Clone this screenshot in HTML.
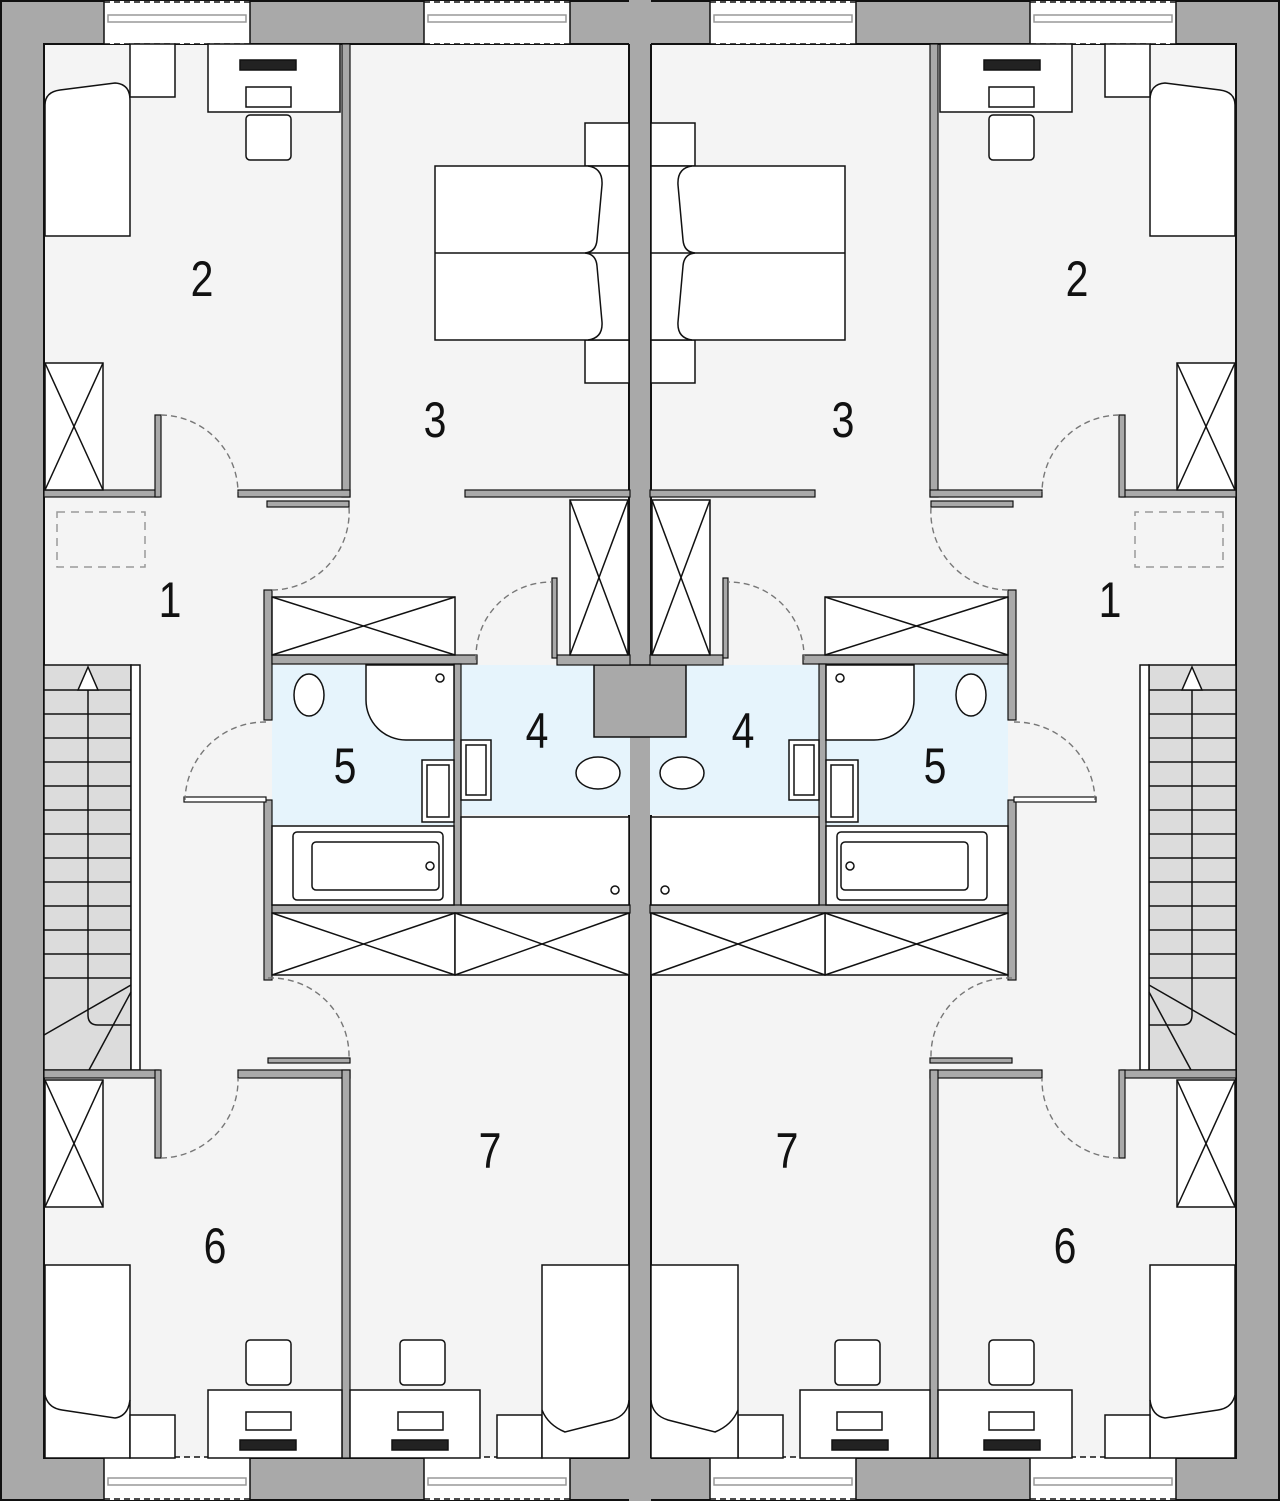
<!DOCTYPE html>
<html><head><meta charset="utf-8"><style>html,body{margin:0;padding:0;background:#fff}svg{display:block}</style></head>
<body>
<svg width="1280" height="1501" viewBox="0 0 1280 1501" xmlns="http://www.w3.org/2000/svg">
<defs>
<g id="half" stroke="#111" stroke-width="1.5">
  <rect x="0" y="0" width="641" height="1501" fill="#a9a9a9" stroke="none"/>
  <polyline points="641,1 1,1 1,1500 641,1500" fill="none" stroke="#111" stroke-width="2"/>
  <rect x="44" y="44" width="586" height="1414" fill="#f4f4f4" stroke="#111" stroke-width="2"/>
  <g fill="#fff">
    <rect x="104" y="1" width="146" height="43" stroke="none"/>
    <rect x="424" y="1" width="146" height="43" stroke="none"/>
    <rect x="104" y="1457" width="146" height="43" stroke="none"/>
    <rect x="424" y="1457" width="146" height="43" stroke="none"/>
  </g>
  <g fill="none" stroke-width="1.5">
    <line x1="104" y1="1" x2="104" y2="44"/><line x1="250" y1="1" x2="250" y2="44"/>
    <line x1="424" y1="1" x2="424" y2="44"/><line x1="570" y1="1" x2="570" y2="44"/>
    <line x1="104" y1="1457" x2="104" y2="1500"/><line x1="250" y1="1457" x2="250" y2="1500"/>
    <line x1="424" y1="1457" x2="424" y2="1500"/><line x1="570" y1="1457" x2="570" y2="1500"/>
    <rect x="108" y="15" width="138" height="7" stroke="#999"/>
    <rect x="428" y="15" width="138" height="7" stroke="#999"/>
    <rect x="108" y="1478" width="138" height="7" stroke="#999"/>
    <rect x="428" y="1478" width="138" height="7" stroke="#999"/>
    <line x1="104" y1="2" x2="250" y2="2" stroke-dasharray="6,4"/>
    <line x1="424" y1="2" x2="570" y2="2" stroke-dasharray="6,4"/>
    <line x1="104" y1="44" x2="250" y2="44" stroke-dasharray="6,4"/>
    <line x1="424" y1="44" x2="570" y2="44" stroke-dasharray="6,4"/>
    <line x1="104" y1="1457" x2="250" y2="1457" stroke-dasharray="6,4"/>
    <line x1="424" y1="1457" x2="570" y2="1457" stroke-dasharray="6,4"/>
    <line x1="104" y1="1499" x2="250" y2="1499" stroke-dasharray="6,4"/>
    <line x1="424" y1="1499" x2="570" y2="1499" stroke-dasharray="6,4"/>
  </g>
  <rect x="629" y="0" width="12" height="1501" fill="#a9a9a9" stroke="none"/>
  <line x1="629" y1="44" x2="629" y2="1458" stroke-width="2"/>
  <rect x="272" y="665" width="182" height="160" fill="#e6f4fc" stroke="none"/>
  <rect x="460" y="665" width="170" height="150" fill="#e6f4fc" stroke="none"/>
  <path d="M641 665 H594 V737 H641" fill="#a9a9a9" stroke-width="1.5"/>
  <rect x="44" y="665" width="87" height="405" fill="#dcdcdc"/>
  <rect x="131" y="665" width="9" height="405" fill="#fff"/>
  <g>
    <line x1="44" y1="690" x2="131" y2="690"/><line x1="44" y1="714" x2="131" y2="714"/>
    <line x1="44" y1="738" x2="131" y2="738"/><line x1="44" y1="762" x2="131" y2="762"/>
    <line x1="44" y1="786" x2="131" y2="786"/><line x1="44" y1="810" x2="131" y2="810"/>
    <line x1="44" y1="834" x2="131" y2="834"/><line x1="44" y1="858" x2="131" y2="858"/>
    <line x1="44" y1="882" x2="131" y2="882"/><line x1="44" y1="906" x2="131" y2="906"/>
    <line x1="44" y1="930" x2="131" y2="930"/><line x1="44" y1="954" x2="131" y2="954"/>
    <line x1="44" y1="978" x2="131" y2="978"/>
    <line x1="131" y1="985" x2="44" y2="1035"/><line x1="131" y1="992" x2="89" y2="1070"/>
    <path d="M88 690 V1015 Q88 1025 98 1025 H131" fill="none"/>
    <polygon points="88,667 78,690 98,690" fill="#fff"/>
  </g>
  <g fill="#a9a9a9" stroke="#111" stroke-width="1.2">
    <rect x="342" y="44" width="8" height="453"/>
    <rect x="44" y="490" width="115" height="7"/>
    <rect x="155" y="415" width="6" height="82"/>
    <rect x="238" y="490" width="112" height="7"/>
    <rect x="267" y="501" width="82" height="6"/>
    <rect x="465" y="490" width="165" height="7"/>
    <rect x="264" y="590" width="8" height="130"/>
    <rect x="272" y="655" width="205" height="9"/>
    <rect x="454" y="664" width="7" height="242"/>
    <rect x="264" y="800" width="8" height="180"/>
    <rect x="272" y="905" width="358" height="8"/>
    <rect x="557" y="655" width="73" height="10"/>
    <rect x="552" y="578" width="5" height="80"/>
    <rect x="44" y="1070" width="115" height="8"/>
    <rect x="155" y="1070" width="6" height="88"/>
    <rect x="238" y="1070" width="112" height="8"/>
    <rect x="342" y="1070" width="8" height="388"/>
    <rect x="268" y="1058" width="82" height="5"/>
    <rect x="184" y="797" width="82" height="5" fill="#fff"/>
  </g>
  <g fill="none" stroke="#777" stroke-dasharray="6,4" stroke-width="1.4">
    <path d="M161 415 A78 78 0 0 1 238 492"/>
    <path d="M272 590 A78 78 0 0 0 349 507"/>
    <path d="M266 722 A80 80 0 0 0 185 800"/>
    <path d="M476 660 A75 75 0 0 1 552 582"/>
    <path d="M268 978 A78 78 0 0 1 349 1058"/>
    <path d="M161 1158 A78 78 0 0 0 238 1078"/>
  </g>
  <g fill="#fff">
    <path d="M45 236 V105 Q45 92 60 90 L115 83 Q130 84 130 100 V236 Z"/>
    <rect x="130" y="44" width="45" height="53"/>
    <rect x="208" y="44" width="132" height="68"/>
    <rect x="240" y="60" width="56" height="10" fill="#222"/>
    <rect x="246" y="87" width="45" height="20"/>
    <rect x="246" y="115" width="45" height="45" rx="4"/>
    <rect x="45" y="363" width="58" height="127"/>
    <line x1="45" y1="363" x2="103" y2="490"/><line x1="103" y1="363" x2="45" y2="490"/>
    <rect x="57" y="512" width="88" height="55" fill="none" stroke-dasharray="8,6" stroke="#999"/>
  </g>
  <g fill="#fff">
    <rect x="585" y="123" width="44" height="43"/>
    <rect x="585" y="340" width="44" height="43"/>
    <rect x="435" y="166" width="194" height="174"/>
    <line x1="435" y1="253" x2="629" y2="253"/>
    <path d="M588 166 Q603 168 602 185 L597 240 Q596 252 585 253 Q596 254 597 266 L602 322 Q603 338 588 340" fill="none"/>
    <rect x="570" y="500" width="58" height="155"/>
    <line x1="570" y1="500" x2="628" y2="655"/><line x1="628" y1="500" x2="570" y2="655"/>
  </g>
  <g fill="#fff">
    <rect x="272" y="597" width="183" height="58"/>
    <line x1="272" y1="597" x2="455" y2="655"/><line x1="455" y1="597" x2="272" y2="655"/>
    <path d="M366 665 V700 A40 40 0 0 0 406 740 H454 V665 Z"/>
    <circle cx="440" cy="678" r="4"/>
    <ellipse cx="309" cy="695" rx="15" ry="21"/>
    <rect x="422" y="760" width="32" height="62"/>
    <rect x="427" y="765" width="22" height="52"/>
    <rect x="461" y="740" width="30" height="60"/>
    <rect x="466" y="745" width="20" height="50"/>
    <ellipse cx="598" cy="773" rx="22" ry="16"/>
    <rect x="272" y="826" width="182" height="79"/>
    <rect x="293" y="832" width="150" height="68" rx="4"/>
    <rect x="312" y="842" width="127" height="48" rx="4"/>
    <circle cx="430" cy="866" r="4"/>
    <rect x="461" y="817" width="168" height="88"/>
    <circle cx="615" cy="890" r="4"/>
    <rect x="272" y="913" width="183" height="62"/>
    <rect x="455" y="913" width="174" height="62"/>
    <line x1="272" y1="913" x2="455" y2="975"/><line x1="455" y1="913" x2="272" y2="975"/>
    <line x1="455" y1="913" x2="629" y2="975"/><line x1="629" y1="913" x2="455" y2="975"/>
  </g>
  <g fill="#fff">
    <rect x="45" y="1080" width="58" height="127"/>
    <line x1="45" y1="1080" x2="103" y2="1207"/><line x1="103" y1="1080" x2="45" y2="1207"/>
    <rect x="45" y="1265" width="85" height="193"/>
    <path d="M45 1395 Q48 1408 62 1410 L115 1418 Q128 1416 130 1400" fill="none"/>
    <rect x="130" y="1415" width="45" height="43"/>
    <rect x="208" y="1390" width="134" height="68"/>
    <rect x="246" y="1412" width="45" height="18"/>
    <rect x="240" y="1440" width="56" height="10" fill="#222"/>
    <rect x="246" y="1340" width="45" height="45" rx="4"/>
  </g>
  <g fill="#fff">
    <rect x="350" y="1390" width="130" height="68"/>
    <rect x="398" y="1412" width="45" height="18"/>
    <rect x="392" y="1440" width="56" height="10" fill="#222"/>
    <rect x="400" y="1340" width="45" height="45" rx="4"/>
    <rect x="497" y="1415" width="45" height="43"/>
    <rect x="542" y="1265" width="87" height="193"/>
    <path d="M542 1410 Q548 1425 565 1432 L612 1420 Q628 1415 629 1400" fill="none"/>
  </g>
</g>
</defs>
<use href="#half"/>
<use href="#half" transform="translate(1280,0) scale(-1,1)"/>
<g font-family="Liberation Sans, sans-serif" font-size="50" fill="#111" text-anchor="middle">
  <text transform="translate(202,296) scale(0.82,1)">2</text>
  <text transform="translate(435,437) scale(0.82,1)">3</text>
  <text transform="translate(170,617) scale(0.82,1)">1</text>
  <text transform="translate(345,783) scale(0.82,1)">5</text>
  <text transform="translate(537,748) scale(0.82,1)">4</text>
  <text transform="translate(215,1263) scale(0.82,1)">6</text>
  <text transform="translate(490,1168) scale(0.82,1)">7</text>
  <text transform="translate(1077,296) scale(0.82,1)">2</text>
  <text transform="translate(843,437) scale(0.82,1)">3</text>
  <text transform="translate(1110,617) scale(0.82,1)">1</text>
  <text transform="translate(935,783) scale(0.82,1)">5</text>
  <text transform="translate(743,748) scale(0.82,1)">4</text>
  <text transform="translate(1065,1263) scale(0.82,1)">6</text>
  <text transform="translate(787,1168) scale(0.82,1)">7</text>
</g>
</svg>
</body></html>
